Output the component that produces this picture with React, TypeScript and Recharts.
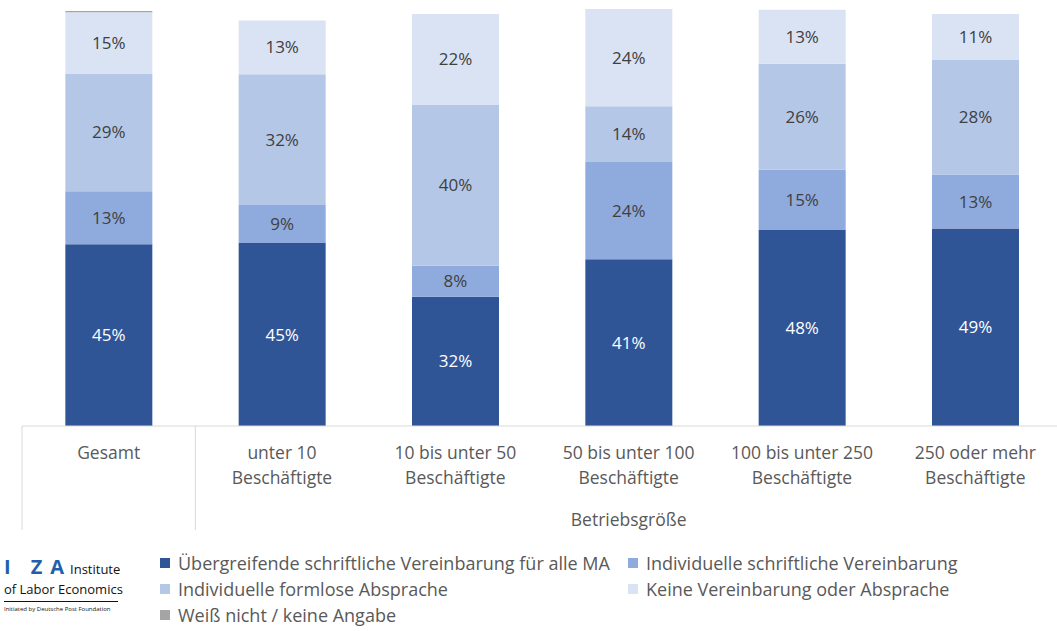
import React from "react";
import { BarChart, Bar, XAxis, YAxis, LabelList } from "recharts";

const categories = [
  "Gesamt",
  "unter 10|Beschäftigte",
  "10 bis unter 50|Beschäftigte",
  "50 bis unter 100|Beschäftigte",
  "100 bis unter 250|Beschäftigte",
  "250 oder mehr|Beschäftigte",
];
const groupLabel = "Betriebsgröße";

const seriesNames = [
  "Übergreifende schriftliche Vereinbarung für alle MA",
  "Individuelle schriftliche Vereinbarung",
  "Individuelle formlose Absprache",
  "Keine Vereinbarung oder Absprache",
  "Weiß nicht / keine Angabe",
];
const uebergreifend = [44.9, 45.2, 31.9, 41.2, 48.4, 48.8];
const individuellSchriftlich = [13.1, 9.4, 7.7, 24.0, 14.9, 13.3];
const formlos = [29.1, 32.3, 39.8, 13.8, 26.2, 28.3];
const keine = [15.1, 13.3, 22.4, 24.0, 13.3, 11.4];
const weissNicht = [0.3, 0, 0, 0, 0, 0];

const colors = ["#2F5597", "#8FAADC", "#B4C7E7", "#DAE3F3", "#A5A5A5"];
const keys = ["s0", "s1", "s2", "s3", "s4"];
const seriesData = [uebergreifend, individuellSchriftlich, formlos, keine, weissNicht];

const data = categories.map((c, i) => {
  const row: any = { name: c };
  keys.forEach((k, j) => (row[k] = seriesData[j][i]));
  return row;
});

const FONT = "'Open Sans', sans-serif";
const TEXT = "#595959";

const CHART_W = 1070;
const MARGIN_L = 22;
const MARGIN_R = 8;
const BAND = (CHART_W - MARGIN_L - MARGIN_R) / categories.length;

const Tick = (props: any) => {
  const { x, y, payload, index } = props;
  const lines = String(payload.value).split("|");
  const axisY = y;
  return (
    <g>
      {lines.map((l: string, i: number) => (
        <text
          key={i}
          x={x}
          y={axisY + 25 + i * 25}
          textAnchor="middle"
          fill={TEXT}
          fontSize={17.5}
          fontFamily={FONT}
        >
          {l}
        </text>
      ))}
      {index === 0 && (
        <>
          <line x1={x - BAND / 2} x2={x - BAND / 2} y1={axisY - 8} y2={axisY + 96} stroke="#D9D9D9" />
          <line x1={x + BAND / 2} x2={x + BAND / 2} y1={axisY - 8} y2={axisY + 96} stroke="#D9D9D9" />
        </>
      )}
      {index === 3 && (
        <text x={x} y={axisY + 92} textAnchor="middle" fill={TEXT} fontSize={17.5} fontFamily={FONT}>
          {groupLabel}
        </text>
      )}
    </g>
  );
};

const LegendBlock = () => (
  <div
    style={{
      position: "absolute",
      left: 160,
      top: 550,
      display: "grid",
      gridTemplateColumns: "468px 420px",
      fontFamily: FONT,
      fontSize: 18,
      color: TEXT,
    }}
  >
    {seriesNames.map((n, i) => (
      <div key={i} style={{ display: "flex", alignItems: "center", height: 26, whiteSpace: "nowrap" }}>
        <span
          style={{
            display: "inline-block",
            width: 10,
            height: 10,
            background: colors[i],
            marginRight: 8,
          }}
        />
        <span>{n}</span>
      </div>
    ))}
  </div>
);

const logoLetter = { color: "#1F5FAD", fontWeight: 700, fontSize: 20, lineHeight: "22px" } as const;

const Logo = () => (
  <div style={{ position: "absolute", left: 4, top: 556, width: 120, fontFamily: FONT }}>
    <div style={{ display: "flex", alignItems: "baseline", height: 22 }}>
      <span style={{ ...logoLetter, marginRight: 20 }}>I</span>
      <span style={{ ...logoLetter, marginRight: 8 }}>Z</span>
      <span style={{ ...logoLetter, marginRight: 6 }}>A</span>
      <span style={{ color: "#111", fontSize: 13 }}>Institute</span>
    </div>
    <div style={{ color: "#111", fontSize: 13, lineHeight: "18px", marginTop: 2, whiteSpace: "nowrap" }}>of Labor Economics</div>
    <div style={{ borderTop: "1.5px solid #111", width: 114, marginTop: 3 }} />
    <div style={{ color: "#111", fontSize: 6, lineHeight: "10px", marginTop: 2, whiteSpace: "nowrap" }}>
      Initiated by Deutsche Post Foundation
    </div>
  </div>
);

export default function App() {
  return (
    <div style={{ position: "absolute", left: 0, top: 0, width: 1057, height: 631, overflow: "hidden", background: "#fff" }}>
      <BarChart
        width={CHART_W}
        height={631}
        data={data}
        margin={{ top: 5, right: MARGIN_R, left: MARGIN_L, bottom: 105 }}
        barCategoryGap="25%"
      >
        <XAxis
          dataKey="name"
          axisLine={{ stroke: "#D9D9D9" }}
          tickLine={false}
          tick={<Tick />}
          height={100}
          interval={0}
        />
        <YAxis hide domain={[0, 104]} allowDataOverflow />
        {keys.map((k, j) => (
          <Bar
            key={k}
            dataKey={k}
            name={seriesNames[j]}
            stackId="a"
            fill={colors[j]}
            isAnimationActive={false}
          >
            {j < 4 && (
              <LabelList
                dataKey={k}
                position="center"
                formatter={(v: any) => `${Math.round(v)}%`}
                fill={j === 0 ? "#FFFFFF" : "#404040"}
                fontSize={17}
                fontFamily={FONT}
              />
            )}
          </Bar>
        ))}
      </BarChart>
      <LegendBlock />
      <Logo />
    </div>
  );
}
